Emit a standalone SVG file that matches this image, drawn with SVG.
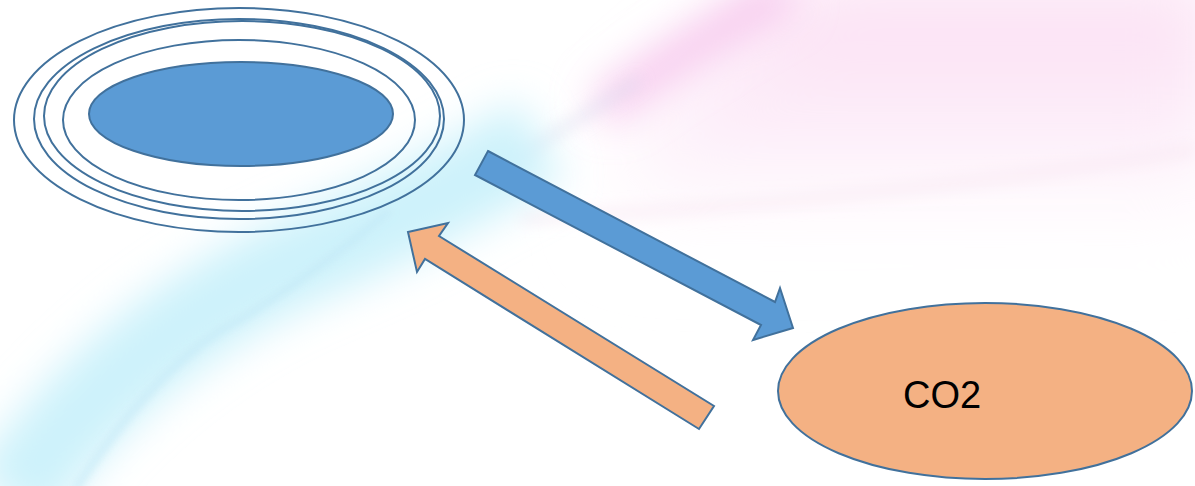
<svg xmlns="http://www.w3.org/2000/svg" width="1195" height="486" viewBox="0 0 1195 486">
  <defs>
    <filter id="blur20" x="-50%" y="-50%" width="200%" height="200%"><feGaussianBlur stdDeviation="20"/></filter>
    <filter id="blur8" x="-50%" y="-50%" width="200%" height="200%"><feGaussianBlur stdDeviation="8"/></filter>
    <filter id="blur4" x="-50%" y="-50%" width="200%" height="200%"><feGaussianBlur stdDeviation="4"/></filter>
    <filter id="blur40" x="-50%" y="-50%" width="200%" height="200%"><feGaussianBlur stdDeviation="40"/></filter>
    <linearGradient id="pinkFade" x1="0" y1="0" x2="0" y2="1">
      <stop offset="0" stop-color="#fbdcf2"/>
      <stop offset="0.6" stop-color="#fdf0fa"/>
      <stop offset="1" stop-color="#ffffff" stop-opacity="0"/>
    </linearGradient>
  </defs>
  <style>
    .ring { fill: none; stroke: #41719c; stroke-width: 2; }
    .core { fill: #5b9bd5; stroke: #41719c; stroke-width: 2; }
    .co2 { fill: #f4b183; stroke: #41719c; stroke-width: 2; }
    .arrow-blue { fill: #5b9bd5; stroke: #41719c; stroke-width: 2; stroke-linejoin: miter; }
    .arrow-orange { fill: #f4b183; stroke: #41719c; stroke-width: 2; stroke-linejoin: miter; }
    .label { font-family: "Liberation Sans", Arial, sans-serif; font-size: 38px; fill: #000; }
  </style>

  <g id="background">
    <rect x="0" y="0" width="1195" height="486" fill="#ffffff"/>
    <path d="M640 120 L800 -20 L1220 -20 L1220 260 L600 250 Z" fill="url(#pinkFade)" filter="url(#blur40)"/>
    <path d="M600 110 Q680 50 790 -10" fill="none" stroke="#f6c4ec" stroke-width="34" filter="url(#blur20)"/>
    <path d="M500 170 Q560 130 640 80" fill="none" stroke="#dcdcee" stroke-width="8" filter="url(#blur8)" opacity="0.7"/>
    <path d="M520 218 Q850 205 1195 150" fill="none" stroke="#f7e4f0" stroke-width="6" filter="url(#blur8)"/>
    <path d="M10 500 Q120 340 300 260 Q420 210 540 140" fill="none" stroke="#cdf2fb" stroke-width="90" filter="url(#blur20)"/>
    <path d="M75 490 Q160 360 240 320 Q320 270 390 210" fill="none" stroke="#c2e8f6" stroke-width="6" filter="url(#blur4)" opacity="0.8"/>
  </g>

  <g id="node-rings">
    <ellipse class="ring" cx="239" cy="120" rx="225" ry="112"/>
    <ellipse class="ring" cx="239" cy="119" rx="205" ry="100"/>
    <ellipse class="ring" cx="242" cy="116" rx="198" ry="95"/>
    <ellipse class="ring" cx="239" cy="120" rx="176" ry="80"/>
    <ellipse class="core" cx="241" cy="114" rx="152" ry="52"/>
  </g>

  <g id="node-co2">
    <ellipse class="co2" cx="985" cy="391" rx="207" ry="88"/>
    <text class="label" x="903" y="408">CO2</text>
  </g>

  <g id="connectors">
    <polygon class="arrow-blue" points="488,151 775,302 780,288 793,328 753,340 761,325 475,175"/>
    <polygon class="arrow-orange" points="408,232 448,223 439,236 714,406 699,429 425,259 417,272"/>
  </g>
</svg>
